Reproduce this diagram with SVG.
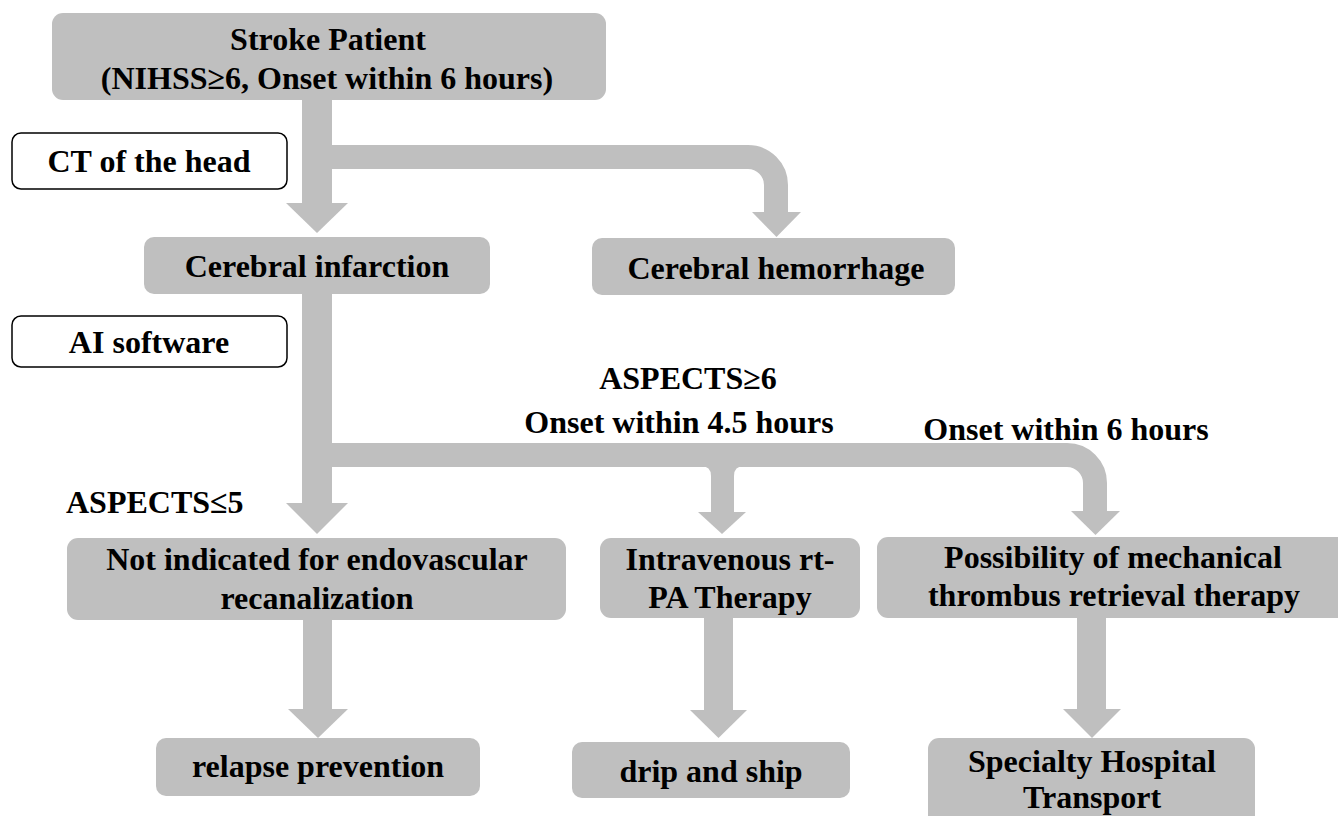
<svg xmlns="http://www.w3.org/2000/svg" width="1338" height="816" viewBox="0 0 1338 816">
<style>
.n{fill:#bfbfbf}
.w{fill:#ffffff;stroke:#000000;stroke-width:1.5}
text{font-family:"Liberation Serif","Times New Roman",serif;font-weight:bold;font-size:32px;fill:#000000}
.c{text-anchor:middle}
.ln{fill:none;stroke:#bfbfbf}
.hd{fill:#bfbfbf}
</style>
<rect width="1338" height="816" fill="#ffffff"/>
<g id="connectors">
  <rect class="hd" x="302" y="99" width="30" height="106"/>
  <polygon class="hd" points="286,203 348,203 317,233"/>
  <path class="ln" stroke-width="24" d="M332 157 H748 A28 28 0 0 1 776 185 V213"/>
  <polygon class="hd" points="752,212 801,212 776.5,237"/>
  <rect class="hd" x="302" y="293" width="30" height="212"/>
  <polygon class="hd" points="286,503 348,503 317,534"/>
  <path class="ln" stroke-width="24" d="M332 455 H1067 A28 28 0 0 1 1095 483 V512"/>
  <polygon class="hd" points="1071,511 1120,511 1095.5,535"/>
  <path class="hd" d="M701 466 Q711 466 711 476 V513 H734 V476 Q734 466 744 466 Z"/>
  <polygon class="hd" points="698,512 746,512 722,534"/>
  <rect class="hd" x="303" y="619" width="29" height="91"/>
  <polygon class="hd" points="288,709 348,709 318,738"/>
  <rect class="hd" x="704" y="617" width="29" height="94"/>
  <polygon class="hd" points="690,710 747,710 718.5,738"/>
  <rect class="hd" x="1077" y="617" width="29" height="93"/>
  <polygon class="hd" points="1063,709 1121,709 1092,738"/>
</g>
<g id="stroke-patient">
  <rect class="n" x="52" y="13" width="554" height="87" rx="11"/>
  <text class="c" x="328" y="50">Stroke Patient</text>
  <text class="c" x="327" y="89">(NIHSS≥6, Onset within 6 hours)</text>
</g>
<g id="ct-head">
  <rect class="w" x="12" y="133" width="275" height="56" rx="9"/>
  <text class="c" x="149" y="172">CT of the head</text>
</g>
<g id="cerebral-infarction">
  <rect class="n" x="144" y="237" width="346" height="57" rx="10"/>
  <text class="c" x="317" y="277">Cerebral infarction</text>
</g>
<g id="cerebral-hemorrhage">
  <rect class="n" x="592" y="238" width="363" height="57" rx="10"/>
  <text class="c" x="776" y="279">Cerebral hemorrhage</text>
</g>
<g id="ai-software">
  <rect class="w" x="12" y="316" width="275" height="51" rx="9"/>
  <text class="c" x="149" y="353">AI software</text>
</g>
<g id="labels">
  <text class="c" x="688" y="389">ASPECTS≥6</text>
  <text class="c" x="679" y="433">Onset within 4.5 hours</text>
  <text class="c" x="1066" y="440">Onset within 6 hours</text>
  <text x="66" y="513">ASPECTS≤5</text>
</g>
<g id="not-indicated">
  <rect class="n" x="67" y="538" width="499" height="82" rx="11"/>
  <text class="c" x="317" y="570">Not indicated for endovascular</text>
  <text class="c" x="317" y="609">recanalization</text>
</g>
<g id="iv-rtpa">
  <rect class="n" x="600" y="538" width="260" height="80" rx="11"/>
  <text class="c" x="730" y="570">Intravenous rt-</text>
  <text class="c" x="730" y="608">PA Therapy</text>
</g>
<g id="mechanical">
  <rect class="n" x="877" y="537" width="480" height="81" rx="11"/>
  <text class="c" x="1113" y="568">Possibility of mechanical</text>
  <text class="c" x="1114" y="606">thrombus retrieval therapy</text>
</g>
<g id="relapse">
  <rect class="n" x="156" y="738" width="324" height="58" rx="10"/>
  <text class="c" x="318" y="777">relapse prevention</text>
</g>
<g id="drip-ship">
  <rect class="n" x="572" y="742" width="278" height="56" rx="10"/>
  <text class="c" x="711" y="782">drip and ship</text>
</g>
<g id="specialty">
  <rect class="n" x="928" y="738" width="327" height="100" rx="11"/>
  <text class="c" x="1092" y="772">Specialty Hospital</text>
  <text class="c" x="1092" y="808">Transport</text>
</g>
</svg>
